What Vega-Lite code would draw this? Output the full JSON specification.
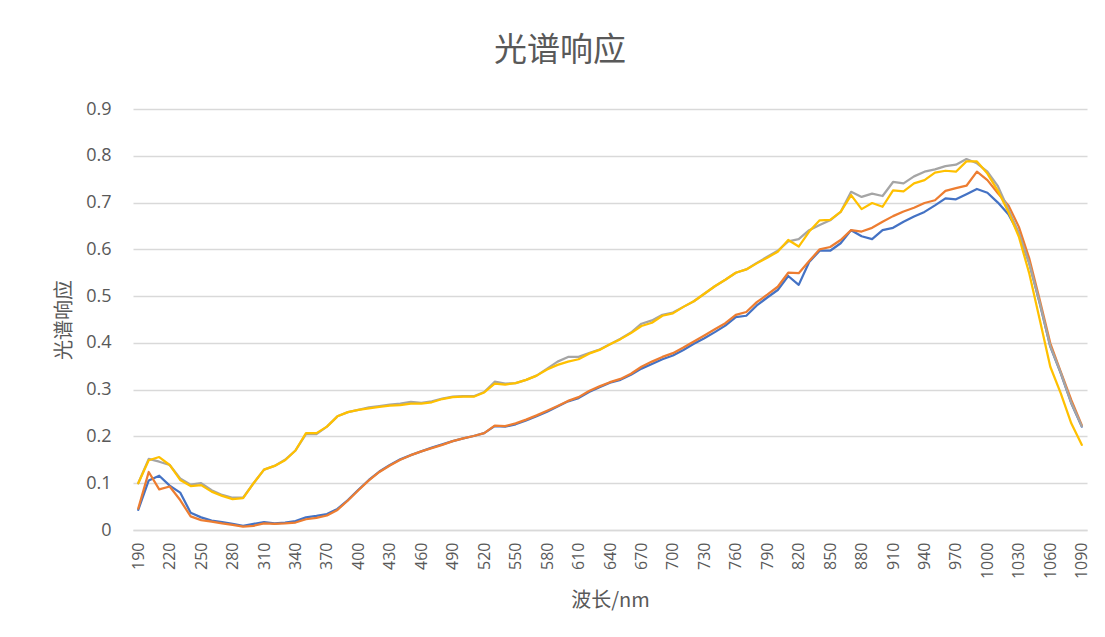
{
  "$schema": "https://vega.github.io/schema/vega-lite/v6.json",
  "autosize": "none",
  "width": 954,
  "height": 421,
  "padding": {"left": 133, "top": 109, "right": 18, "bottom": 107},
  "background": "white",
  "title": {"text": "光谱响应", "font": "Noto Sans CJK SC", "fontSize": 33, "fontWeight": "normal", "color": "#595959", "anchor": "middle", "dx": -50, "offset": 32},
  "data": {"values": [
    {"w":190,"a":0.043,"b":0.046,"c":0.100,"d":0.100},
    {"w":200,"a":0.106,"b":0.124,"c":0.152,"d":0.149},
    {"w":210,"a":0.116,"b":0.087,"c":0.146,"d":0.156},
    {"w":220,"a":0.095,"b":0.093,"c":0.139,"d":0.139},
    {"w":230,"a":0.080,"b":0.064,"c":0.110,"d":0.107},
    {"w":240,"a":0.037,"b":0.029,"c":0.097,"d":0.094},
    {"w":250,"a":0.027,"b":0.021,"c":0.100,"d":0.096},
    {"w":260,"a":0.020,"b":0.018,"c":0.085,"d":0.082},
    {"w":270,"a":0.017,"b":0.014,"c":0.075,"d":0.073},
    {"w":280,"a":0.013,"b":0.011,"c":0.069,"d":0.066},
    {"w":290,"a":0.009,"b":0.007,"c":0.069,"d":0.068},
    {"w":300,"a":0.013,"b":0.009,"c":0.100,"d":0.100},
    {"w":310,"a":0.017,"b":0.014,"c":0.129,"d":0.129},
    {"w":320,"a":0.014,"b":0.013,"c":0.137,"d":0.137},
    {"w":330,"a":0.016,"b":0.014,"c":0.150,"d":0.149},
    {"w":340,"a":0.019,"b":0.016,"c":0.170,"d":0.170},
    {"w":350,"a":0.027,"b":0.023,"c":0.205,"d":0.207},
    {"w":360,"a":0.030,"b":0.026,"c":0.205,"d":0.207},
    {"w":370,"a":0.034,"b":0.031,"c":0.221,"d":0.221},
    {"w":380,"a":0.045,"b":0.043,"c":0.243,"d":0.243},
    {"w":390,"a":0.064,"b":0.063,"c":0.252,"d":0.252},
    {"w":400,"a":0.086,"b":0.085,"c":0.257,"d":0.257},
    {"w":410,"a":0.107,"b":0.106,"c":0.262,"d":0.260},
    {"w":420,"a":0.125,"b":0.124,"c":0.265,"d":0.263},
    {"w":430,"a":0.139,"b":0.138,"c":0.268,"d":0.266},
    {"w":440,"a":0.151,"b":0.150,"c":0.270,"d":0.267},
    {"w":450,"a":0.160,"b":0.160,"c":0.274,"d":0.270},
    {"w":460,"a":0.168,"b":0.168,"c":0.272,"d":0.270},
    {"w":470,"a":0.176,"b":0.175,"c":0.275,"d":0.273},
    {"w":480,"a":0.183,"b":0.182,"c":0.281,"d":0.280},
    {"w":490,"a":0.190,"b":0.190,"c":0.285,"d":0.284},
    {"w":500,"a":0.196,"b":0.196,"c":0.286,"d":0.285},
    {"w":510,"a":0.201,"b":0.201,"c":0.286,"d":0.285},
    {"w":520,"a":0.207,"b":0.207,"c":0.295,"d":0.294},
    {"w":530,"a":0.222,"b":0.223,"c":0.317,"d":0.313},
    {"w":540,"a":0.221,"b":0.222,"c":0.313,"d":0.311},
    {"w":550,"a":0.226,"b":0.228,"c":0.314,"d":0.314},
    {"w":560,"a":0.234,"b":0.236,"c":0.321,"d":0.321},
    {"w":570,"a":0.243,"b":0.245,"c":0.330,"d":0.330},
    {"w":580,"a":0.253,"b":0.255,"c":0.345,"d":0.343},
    {"w":590,"a":0.264,"b":0.265,"c":0.360,"d":0.353},
    {"w":600,"a":0.275,"b":0.276,"c":0.370,"d":0.360},
    {"w":610,"a":0.282,"b":0.284,"c":0.370,"d":0.365},
    {"w":620,"a":0.295,"b":0.297,"c":0.378,"d":0.377},
    {"w":630,"a":0.305,"b":0.307,"c":0.386,"d":0.385},
    {"w":640,"a":0.315,"b":0.316,"c":0.397,"d":0.397},
    {"w":650,"a":0.321,"b":0.323,"c":0.409,"d":0.408},
    {"w":660,"a":0.332,"b":0.334,"c":0.422,"d":0.421},
    {"w":670,"a":0.345,"b":0.349,"c":0.441,"d":0.436},
    {"w":680,"a":0.355,"b":0.360,"c":0.448,"d":0.443},
    {"w":690,"a":0.365,"b":0.370,"c":0.460,"d":0.458},
    {"w":700,"a":0.373,"b":0.378,"c":0.465,"d":0.463},
    {"w":710,"a":0.385,"b":0.390,"c":0.477,"d":0.477},
    {"w":720,"a":0.398,"b":0.403,"c":0.489,"d":0.489},
    {"w":730,"a":0.410,"b":0.416,"c":0.505,"d":0.505},
    {"w":740,"a":0.423,"b":0.429,"c":0.521,"d":0.521},
    {"w":750,"a":0.437,"b":0.442,"c":0.535,"d":0.535},
    {"w":760,"a":0.455,"b":0.460,"c":0.550,"d":0.550},
    {"w":770,"a":0.458,"b":0.466,"c":0.557,"d":0.557},
    {"w":780,"a":0.480,"b":0.487,"c":0.571,"d":0.570},
    {"w":790,"a":0.497,"b":0.503,"c":0.584,"d":0.582},
    {"w":800,"a":0.513,"b":0.520,"c":0.597,"d":0.595},
    {"w":810,"a":0.543,"b":0.550,"c":0.617,"d":0.620},
    {"w":820,"a":0.524,"b":0.549,"c":0.622,"d":0.606},
    {"w":830,"a":0.573,"b":0.575,"c":0.641,"d":0.638},
    {"w":840,"a":0.597,"b":0.600,"c":0.652,"d":0.662},
    {"w":850,"a":0.597,"b":0.605,"c":0.662,"d":0.663},
    {"w":860,"a":0.613,"b":0.620,"c":0.680,"d":0.680},
    {"w":870,"a":0.641,"b":0.641,"c":0.723,"d":0.716},
    {"w":880,"a":0.628,"b":0.638,"c":0.712,"d":0.686},
    {"w":890,"a":0.622,"b":0.646,"c":0.719,"d":0.699},
    {"w":900,"a":0.641,"b":0.659,"c":0.714,"d":0.691},
    {"w":910,"a":0.646,"b":0.671,"c":0.744,"d":0.726},
    {"w":920,"a":0.659,"b":0.681,"c":0.741,"d":0.724},
    {"w":930,"a":0.670,"b":0.689,"c":0.756,"d":0.741},
    {"w":940,"a":0.680,"b":0.699,"c":0.766,"d":0.748},
    {"w":950,"a":0.694,"b":0.705,"c":0.771,"d":0.764},
    {"w":960,"a":0.709,"b":0.725,"c":0.778,"d":0.768},
    {"w":970,"a":0.707,"b":0.731,"c":0.781,"d":0.766},
    {"w":980,"a":0.718,"b":0.736,"c":0.793,"d":0.788},
    {"w":990,"a":0.729,"b":0.766,"c":0.784,"d":0.788},
    {"w":1000,"a":0.721,"b":0.748,"c":0.766,"d":0.762},
    {"w":1010,"a":0.700,"b":0.720,"c":0.735,"d":0.725},
    {"w":1020,"a":0.675,"b":0.694,"c":0.685,"d":0.680},
    {"w":1030,"a":0.634,"b":0.648,"c":0.635,"d":0.627},
    {"w":1040,"a":0.570,"b":0.580,"c":0.570,"d":0.548},
    {"w":1050,"a":0.484,"b":0.491,"c":0.485,"d":0.449},
    {"w":1060,"a":0.392,"b":0.399,"c":0.393,"d":0.349},
    {"w":1070,"a":0.335,"b":0.338,"c":0.336,"d":0.292},
    {"w":1080,"a":0.271,"b":0.278,"c":0.272,"d":0.228},
    {"w":1090,"a":0.221,"b":0.224,"c":0.222,"d":0.182}
  ]},
  "transform": [{"fold": ["a", "b", "c", "d"], "as": ["series", "value"]}],
  "mark": {"type": "line", "strokeWidth": 2.25, "strokeJoin": "round", "strokeCap": "round"},
  "encoding": {
    "x": {
      "field": "w", "type": "quantitative",
      "scale": {"domain": [185, 1095], "nice": false, "zero": false},
      "axis": {
        "values": [190,220,250,280,310,340,370,400,430,460,490,520,550,580,610,640,670,700,730,760,790,820,850,880,910,940,970,1000,1030,1060,1090],
        "format": "d",
        "labelAngle": -90, "labelFontSize": 16, "labelColor": "#595959", "labelFont": "Open Sans",
        "labelPadding": 12, "ticks": false, "grid": false, "domain": true, "domainColor": "#d9d9d9", "domainWidth": 1.5,
        "labelOverlap": false, "labelFlush": false,
        "title": "波长/nm", "titleFont": "Noto Sans CJK SC", "titleFontSize": 20, "titleFontWeight": "normal", "titleColor": "#595959", "titlePadding": 12
      }
    },
    "y": {
      "field": "value", "type": "quantitative",
      "scale": {"domain": [0, 0.9], "nice": false},
      "axis": {
        "values": [0, 0.1, 0.2, 0.3, 0.4, 0.5, 0.6, 0.7, 0.8, 0.9],
        "format": "~g", "labelFontSize": 18, "labelColor": "#595959", "labelFont": "Open Sans",
        "labelPadding": 22, "ticks": false, "domain": false, "grid": true, "gridColor": "#d9d9d9", "gridWidth": 1.5,
        "title": "光谱响应", "titleFont": "Noto Sans CJK SC", "titleFontSize": 20, "titleFontWeight": "normal", "titleColor": "#595959", "titlePadding": 11
      }
    },
    "color": {
      "field": "series", "type": "nominal",
      "scale": {"domain": ["a", "b", "c", "d"], "range": ["#4472C4", "#ED7D31", "#A5A5A5", "#FFC000"]},
      "legend": null
    }
  },
  "config": {"view": {"stroke": null}}
}
